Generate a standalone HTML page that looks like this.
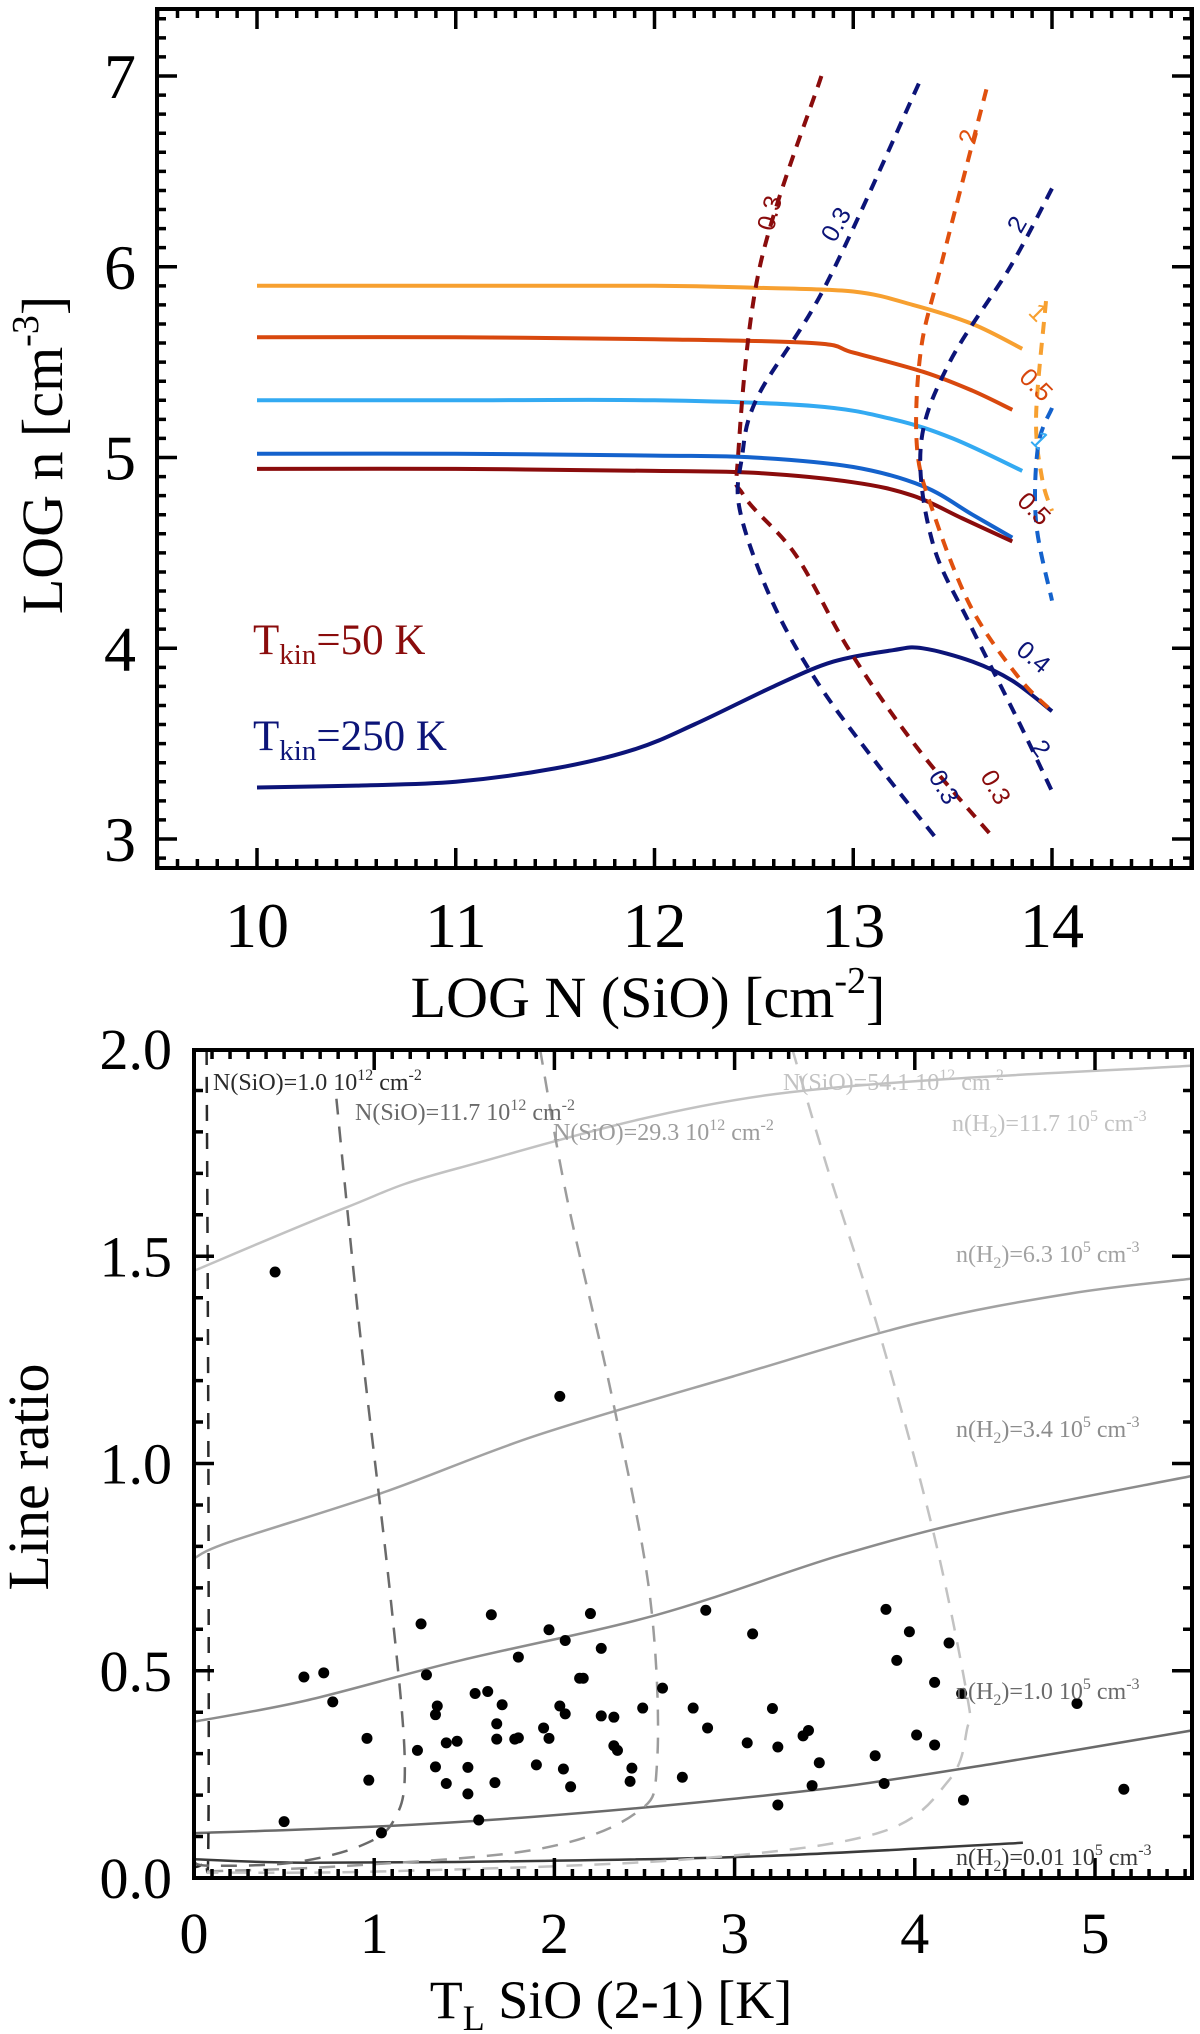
<!DOCTYPE html>
<html><head><meta charset="utf-8">
<style>
html,body{margin:0;padding:0;background:#fff;}
svg{display:block;font-family:"Liberation Serif","DejaVu Serif",serif;}
</style></head>
<body>
<svg id="fig" width="1200" height="2034" viewBox="0 0 1200 2034" xmlns="http://www.w3.org/2000/svg">
<g id="topPanel"></g>
<g id="botPanel"></g>
</svg>
<script>
// ---------- TOP PANEL DATA ----------
const topXTicks = [10, 11, 12, 13, 14];
const topYTicks = [3, 4, 5, 6, 7];
const solidNames = ['orange-50', 'red-50', 'lightblue-250', 'blue-250', 'darkred-50', 'navy-250'];
const solidColors = ['#f7a030', '#d8480e', '#33aaf2', '#1462cc', '#8a0c0c', '#0c1478'];
const solidX = [
  [10, 11, 12, 12.5, 13, 13.3, 13.6, 13.85],
  [10, 11, 12, 12.8, 13, 13.35, 13.6, 13.8],
  [10, 11, 12, 12.8, 13.2, 13.5, 13.85],
  [10, 11, 12, 12.5, 13, 13.35, 13.6, 13.8],
  [10, 11, 12, 12.5, 13, 13.3, 13.55, 13.8],
  [10, 10.5, 11, 11.5, 11.9, 12.2, 12.6, 12.9, 13.2, 13.35, 13.6, 13.8, 14.0]
];
const solidY = [
  [5.9, 5.9, 5.9, 5.89, 5.87, 5.8, 5.7, 5.57],
  [5.63, 5.63, 5.62, 5.6, 5.55, 5.45, 5.35, 5.25],
  [5.3, 5.3, 5.3, 5.27, 5.2, 5.1, 4.93],
  [5.02, 5.02, 5.01, 5.0, 4.95, 4.85, 4.7, 4.58],
  [4.94, 4.94, 4.93, 4.92, 4.87, 4.8, 4.68, 4.56],
  [3.27, 3.28, 3.3, 3.37, 3.47, 3.6, 3.8, 3.93, 3.99, 4.0, 3.93, 3.83, 3.67]
];
const dashNames = ['darkred-0.3', 'navy-0.3', 'orangered-2', 'navy-2', 'orange-near14', 'lightblue-near14'];
const dashColors = ['#8a0c0c', '#0c1478', '#e0500e', '#0c1478', '#f7a030', '#1462cc'];
const dashX = [
  [12.84, 12.53, 12.42, 12.45, 12.71, 12.98, 13.32, 13.71],
  [13.33, 12.86, 12.52, 12.44, 12.43, 12.59, 12.82, 13.13, 13.42],
  [13.67, 13.44, 13.34, 13.32, 13.4, 13.59, 13.83, 14.0],
  [14.0, 13.79, 13.48, 13.34, 13.4, 13.59, 13.83, 14.0],
  [13.97, 13.92, 13.95, 14.0],
  [14.0, 13.93, 13.92, 14.0]
];
const dashY = [
  [7.0, 6.0, 5.0, 4.8, 4.49, 3.99, 3.48, 3.0],
  [6.96, 5.9, 5.32, 5.0, 4.72, 4.25, 3.82, 3.38, 3.0],
  [6.93, 6.0, 5.56, 5.06, 4.72, 4.22, 3.85, 3.67],
  [6.41, 6.0, 5.49, 5.06, 4.55, 4.12, 3.62, 3.25],
  [5.82, 5.22, 4.89, 4.72],
  [5.26, 5.06, 4.66, 4.25]
];
const contourLabels = ['0.3', '0.3', '2', '2', '1', '0.5', '1', '0.5', '0.4', '2', '0.3', '0.3'];
const contourLabelX = [12.62, 12.95, 13.62, 13.86, 13.9, 13.89, 13.91, 13.88, 13.88, 13.91, 13.42, 13.68];
const contourLabelY = [6.27, 6.2, 6.67, 6.2, 5.73, 5.35, 5.06, 4.7, 3.92, 3.45, 3.25, 3.25];
const contourLabelColors = ['#8a0c0c', '#0c1478', '#e0500e', '#0c1478', '#f7a030', '#d8480e', '#33aaf2', '#8a0c0c', '#0c1478', '#0c1478', '#0c1478', '#8a0c0c'];
const contourLabelRot = [-75, -60, -75, -60, 45, 45, 45, 45, 40, 55, 60, 60];

// ---------- BOTTOM PANEL DATA ----------
const botXTicks = [0, 1, 2, 3, 4, 5];
const botYTicks = ['0.0', '0.5', '1.0', '1.5', '2.0'];
const densNames = ['nh2-0.01', 'nh2-1.0', 'nh2-3.4', 'nh2-6.3', 'nh2-11.7'];
const densColors = ['#3a3a3a', '#6a6a6a', '#8c8c8c', '#a2a2a2', '#c2c2c2'];
const densX = [
  [0, 0.62, 1.89, 3.17, 4.6],
  [0, 1.05, 1.89, 2.74, 3.59, 4.44, 5.54],
  [0, 0.62, 1.47, 2.57, 3.59, 4.44, 5.54],
  [0, 0.2, 1.05, 1.89, 2.99, 4.01, 4.86, 5.54],
  [0, 0.84, 1.47, 3.17, 5.54]
];
const densY = [
  [0.045, 0.037, 0.041, 0.053, 0.085],
  [0.108, 0.125, 0.148, 0.18, 0.22, 0.276, 0.356],
  [0.377, 0.428, 0.524, 0.635, 0.779, 0.875, 0.97],
  [0.771, 0.811, 0.93, 1.066, 1.21, 1.338, 1.41, 1.446],
  [1.465, 1.617, 1.713, 1.888, 1.96]
];
const colNames = ['nsio-1.0', 'nsio-11.7', 'nsio-29.3', 'nsio-54.1'];
const colColors = ['#2a2a2a', '#6a6a6a', '#9c9c9c', '#c2c2c2'];
const colX = [
  [0.07, 0.08, 0.08, 0.06, 0.0],
  [0.79, 0.92, 1.09, 1.17, 1.11, 0.92, 0.54, 0.07, 0.0],
  [1.92, 2.07, 2.32, 2.53, 2.57, 2.45, 1.9, 0.84, 0.07],
  [3.32, 3.51, 3.8, 4.1, 4.29, 4.29, 4.19, 3.8, 2.74, 1.05, 0.07]
];
const colY = [
  [2.0, 1.0, 0.1, 0.04, 0.025],
  [1.88, 1.32, 0.68, 0.28, 0.14, 0.077, 0.037, 0.03, 0.045],
  [2.0, 1.64, 1.16, 0.68, 0.28, 0.156, 0.069, 0.029, 0.016],
  [2.0, 1.72, 1.32, 0.84, 0.44, 0.36, 0.236, 0.109, 0.045, 0.016, 0.013]
];
const ptT = [0.45,0.50,0.61,0.72,0.77,0.96,0.97,1.04,1.24,1.26,1.29,1.34,1.34,1.35,1.40,1.40,1.46,1.52,1.52,1.56,1.58,1.63,1.65,1.67,1.68,1.68,1.71,1.78,1.80,1.80,1.90,1.94,1.97,1.97,2.03,2.03,2.05,2.06,2.06,2.09,2.14,2.16,2.20,2.26,2.26,2.33,2.33,2.35,2.42,2.43,2.49,2.60,2.71,2.77,2.84,2.85,3.07,3.10,3.21,3.24,3.24,3.38,3.41,3.43,3.47,3.78,3.83,3.84,3.90,3.97,4.01,4.11,4.11,4.19,4.26,4.27,4.90,5.16];
const ptR = [1.462,0.136,0.485,0.495,0.425,0.337,0.236,0.109,0.308,0.613,0.49,0.268,0.394,0.415,0.228,0.326,0.33,0.267,0.203,0.445,0.14,0.45,0.635,0.23,0.335,0.372,0.418,0.335,0.533,0.338,0.273,0.362,0.337,0.599,1.162,0.415,0.263,0.573,0.396,0.22,0.482,0.482,0.638,0.554,0.391,0.388,0.319,0.308,0.233,0.265,0.41,0.458,0.243,0.41,0.646,0.362,0.326,0.589,0.409,0.316,0.176,0.343,0.356,0.223,0.278,0.295,0.228,0.648,0.525,0.594,0.345,0.472,0.321,0.567,0.445,0.188,0.421,0.214];

// ---------- helpers ----------
const SVGNS = 'http://www.w3.org/2000/svg';
function mk(parent, tag, attrs) {
  const e = document.createElementNS(SVGNS, tag);
  for (const k in attrs) e.setAttribute(k, attrs[k]);
  parent.appendChild(e);
  return e;
}
// smooth Catmull-Rom path through data points
function pathD(xs, ys, fx, fy) {
  const P = xs.map((v, i) => [fx(v), fy(ys[i])]);
  let d = 'M' + P[0][0].toFixed(1) + ' ' + P[0][1].toFixed(1);
  for (let i = 0; i < P.length - 1; i++) {
    const p0 = P[Math.max(0, i - 1)], p1 = P[i], p2 = P[i + 1], p3 = P[Math.min(P.length - 1, i + 2)];
    const c1x = p1[0] + (p2[0] - p0[0]) / 6, c1y = p1[1] + (p2[1] - p0[1]) / 6;
    const c2x = p2[0] - (p3[0] - p1[0]) / 6, c2y = p2[1] - (p3[1] - p1[1]) / 6;
    d += 'C' + c1x.toFixed(1) + ' ' + c1y.toFixed(1) + ' ' + c2x.toFixed(1) + ' ' + c2y.toFixed(1) + ' ' + p2[0].toFixed(1) + ' ' + p2[1].toFixed(1);
  }
  return d;
}

// ---------- TOP PANEL ----------
const topG = document.getElementById('topPanel');
const TL = 157, TR = 1192, TT = 9, TB = 868;
const tx = v => 257 + (v - 10) * 198.75;
const ty = v => 839 - (v - 3) * 190.75;

for (let i = 0; i < solidX.length; i++) {
  const p = mk(topG, 'path', {d: pathD(solidX[i], solidY[i], tx, ty), fill: 'none', stroke: solidColors[i], 'stroke-width': 4, 'stroke-linejoin': 'round'});
  
  
}
for (let i = 0; i < dashX.length; i++) {
  const p = mk(topG, 'path', {d: pathD(dashX[i], dashY[i], tx, ty), fill: 'none', stroke: dashColors[i], 'stroke-width': 4, 'stroke-dasharray': '12 9'});
  
  
}
for (let i = 0; i < contourLabels.length; i++) {
  const x = tx(contourLabelX[i]), y = ty(contourLabelY[i]);
  const t = mk(topG, 'text', {x: x, y: y, 'font-family': '"Liberation Sans",sans-serif', 'font-size': 25, fill: contourLabelColors[i], 'text-anchor': 'middle', transform: 'rotate(' + contourLabelRot[i] + ' ' + x + ' ' + y + ')'});
  t.textContent = contourLabels[i];
  
  
}
const tf = mk(topG, 'rect', {x: TL, y: TT, width: TR - TL, height: TB - TT, fill: 'none', stroke: '#000', 'stroke-width': 4});


let tk = '';
for (let k = 95; k <= 147; k++) {
  const x = tx(k / 10), L = (k % 10 === 0) ? 20 : 9;
  tk += `M${x} ${TB}V${TB - L}M${x} ${TT}V${TT + L}`;
}
for (let k = 29; k <= 73; k++) {
  const y = ty(k / 10), L = (k % 10 === 0) ? 20 : 9;
  tk += `M${TL} ${y}H${TL + L}M${TR} ${y}H${TR - L}`;
}
const tt = mk(topG, 'path', {d: tk, stroke: '#000', 'stroke-width': 3.5, fill: 'none'});


topXTicks.forEach(v => {
  const t = mk(topG, 'text', {x: tx(v), y: 947, 'font-size': 64, 'text-anchor': 'middle'});
  t.textContent = v;
  
  
});
topYTicks.forEach(v => {
  const t = mk(topG, 'text', {x: 136, y: ty(v) + 22, 'font-size': 64, 'text-anchor': 'end'});
  t.textContent = v;
  
  
});
const topStatic = mk(topG, 'g', {});
topStatic.innerHTML =
  '<text x="648" y="1017" font-size="58" text-anchor="middle">LOG N (SiO) [cm<tspan font-size="38" dy="-24">-2</tspan><tspan dy="24">]</tspan></text>' +
  '<text transform="translate(62 455) rotate(-90)" font-size="58" text-anchor="middle">LOG n [cm<tspan font-size="38" dy="-24">-3</tspan><tspan dy="24">]</tspan></text>' +
  '<text x="253" y="654" font-size="43" fill="#8a0c0c">T<tspan font-size="29" dy="10">kin</tspan><tspan dy="-10">=50 K</tspan></text>' +
  '<text x="253" y="750" font-size="43" fill="#0c1478">T<tspan font-size="29" dy="10">kin</tspan><tspan dy="-10">=250 K</tspan></text>';

// ---------- BOTTOM PANEL ----------
const botG = document.getElementById('botPanel');
const BL = 194, BR = 1192, BT = 1050, BB = 1878;
const bx = v => 194 + v * 180.2;
const by = v => 1878 - v * 414.5;
const clip = mk(botG, 'clipPath', {id: 'bclip'});
mk(clip, 'rect', {x: BL, y: BT, width: BR - BL, height: BB - BT});
const inner = mk(botG, 'g', {'clip-path': 'url(#bclip)'});
for (let i = 0; i < densX.length; i++) {
  const p = mk(inner, 'path', {d: pathD(densX[i], densY[i], bx, by), fill: 'none', stroke: densColors[i], 'stroke-width': 2.5});
  
  
}
for (let i = 0; i < colX.length; i++) {
  const p = mk(inner, 'path', {d: pathD(colX[i], colY[i], bx, by), fill: 'none', stroke: colColors[i], 'stroke-width': 2.5, 'stroke-dasharray': '16 12'});
  
  
}
for (let i = 0; i < ptT.length; i++) {
  const c = mk(inner, 'circle', {cx: bx(ptT[i]), cy: by(ptR[i]), r: 5.5, fill: '#000'});
  
  
}
const bf = mk(botG, 'rect', {x: BL, y: BT, width: BR - BL, height: BB - BT, fill: 'none', stroke: '#000', 'stroke-width': 4});


let btk = '';
for (let k = 1; k <= 55; k++) {
  const x = bx(k / 10), L = (k % 10 === 0) ? 20 : 9;
  btk += `M${x} ${BB}V${BB - L}M${x} ${BT}V${BT + L}`;
}
for (let k = 1; k <= 19; k++) {
  const y = by(k / 10), L = (k % 5 === 0) ? 20 : 9;
  btk += `M${BL} ${y}H${BL + L}M${BR} ${y}H${BR - L}`;
}
const bt = mk(botG, 'path', {d: btk, stroke: '#000', 'stroke-width': 3.5, fill: 'none'});


botXTicks.forEach(v => {
  const t = mk(botG, 'text', {x: bx(v), y: 1953, 'font-size': 58, 'text-anchor': 'middle'});
  t.textContent = v;
  
  
});
botYTicks.forEach(s => {
  const t = mk(botG, 'text', {x: 172, y: by(parseFloat(s)) + 20, 'font-size': 58, 'text-anchor': 'end'});
  t.textContent = s;
  
  
});
const botStatic = mk(botG, 'g', {});
botStatic.innerHTML =
  '<text x="611" y="2018" font-size="54" text-anchor="middle">T<tspan font-size="36" dy="12">L</tspan><tspan dy="-12"> SiO (2-1) [K]</tspan></text>' +
  '<text transform="translate(48 1477) rotate(-90)" font-size="58" text-anchor="middle">Line ratio</text>' +
  '<g font-size="24">' +
  '<text x="213" y="1090" fill="#2a2a2a">N(SiO)=1.0 10<tspan font-size="16" dy="-10">12</tspan><tspan dy="10"> cm</tspan><tspan font-size="16" dy="-10">-2</tspan></text>' +
  '<text x="355" y="1120" fill="#6a6a6a">N(SiO)=11.7 10<tspan font-size="16" dy="-10">12</tspan><tspan dy="10"> cm</tspan><tspan font-size="16" dy="-10">-2</tspan></text>' +
  '<text x="553" y="1140" fill="#9c9c9c">N(SiO)=29.3 10<tspan font-size="16" dy="-10">12</tspan><tspan dy="10"> cm</tspan><tspan font-size="16" dy="-10">-2</tspan></text>' +
  '<text x="783" y="1090" fill="#c2c2c2">N(SiO)=54.1 10<tspan font-size="16" dy="-10">12</tspan><tspan dy="10"> cm</tspan><tspan font-size="16" dy="-10">-2</tspan></text>' +
  '<text x="952" y="1131" fill="#c2c2c2">n(H<tspan font-size="16" dy="6">2</tspan><tspan dy="-6">)=11.7 10</tspan><tspan font-size="16" dy="-10">5</tspan><tspan dy="10"> cm</tspan><tspan font-size="16" dy="-10">-3</tspan></text>' +
  '<text x="956" y="1262" fill="#a2a2a2">n(H<tspan font-size="16" dy="6">2</tspan><tspan dy="-6">)=6.3 10</tspan><tspan font-size="16" dy="-10">5</tspan><tspan dy="10"> cm</tspan><tspan font-size="16" dy="-10">-3</tspan></text>' +
  '<text x="956" y="1437" fill="#8c8c8c">n(H<tspan font-size="16" dy="6">2</tspan><tspan dy="-6">)=3.4 10</tspan><tspan font-size="16" dy="-10">5</tspan><tspan dy="10"> cm</tspan><tspan font-size="16" dy="-10">-3</tspan></text>' +
  '<text x="956" y="1699" fill="#6a6a6a">n(H<tspan font-size="16" dy="6">2</tspan><tspan dy="-6">)=1.0 10</tspan><tspan font-size="16" dy="-10">5</tspan><tspan dy="10"> cm</tspan><tspan font-size="16" dy="-10">-3</tspan></text>' +
  '<text x="956" y="1865" fill="#3a3a3a">n(H<tspan font-size="16" dy="6">2</tspan><tspan dy="-6">)=0.01 10</tspan><tspan font-size="16" dy="-10">5</tspan><tspan dy="10"> cm</tspan><tspan font-size="16" dy="-10">-3</tspan></text>' +
  '</g>';
</script>
</body></html>
